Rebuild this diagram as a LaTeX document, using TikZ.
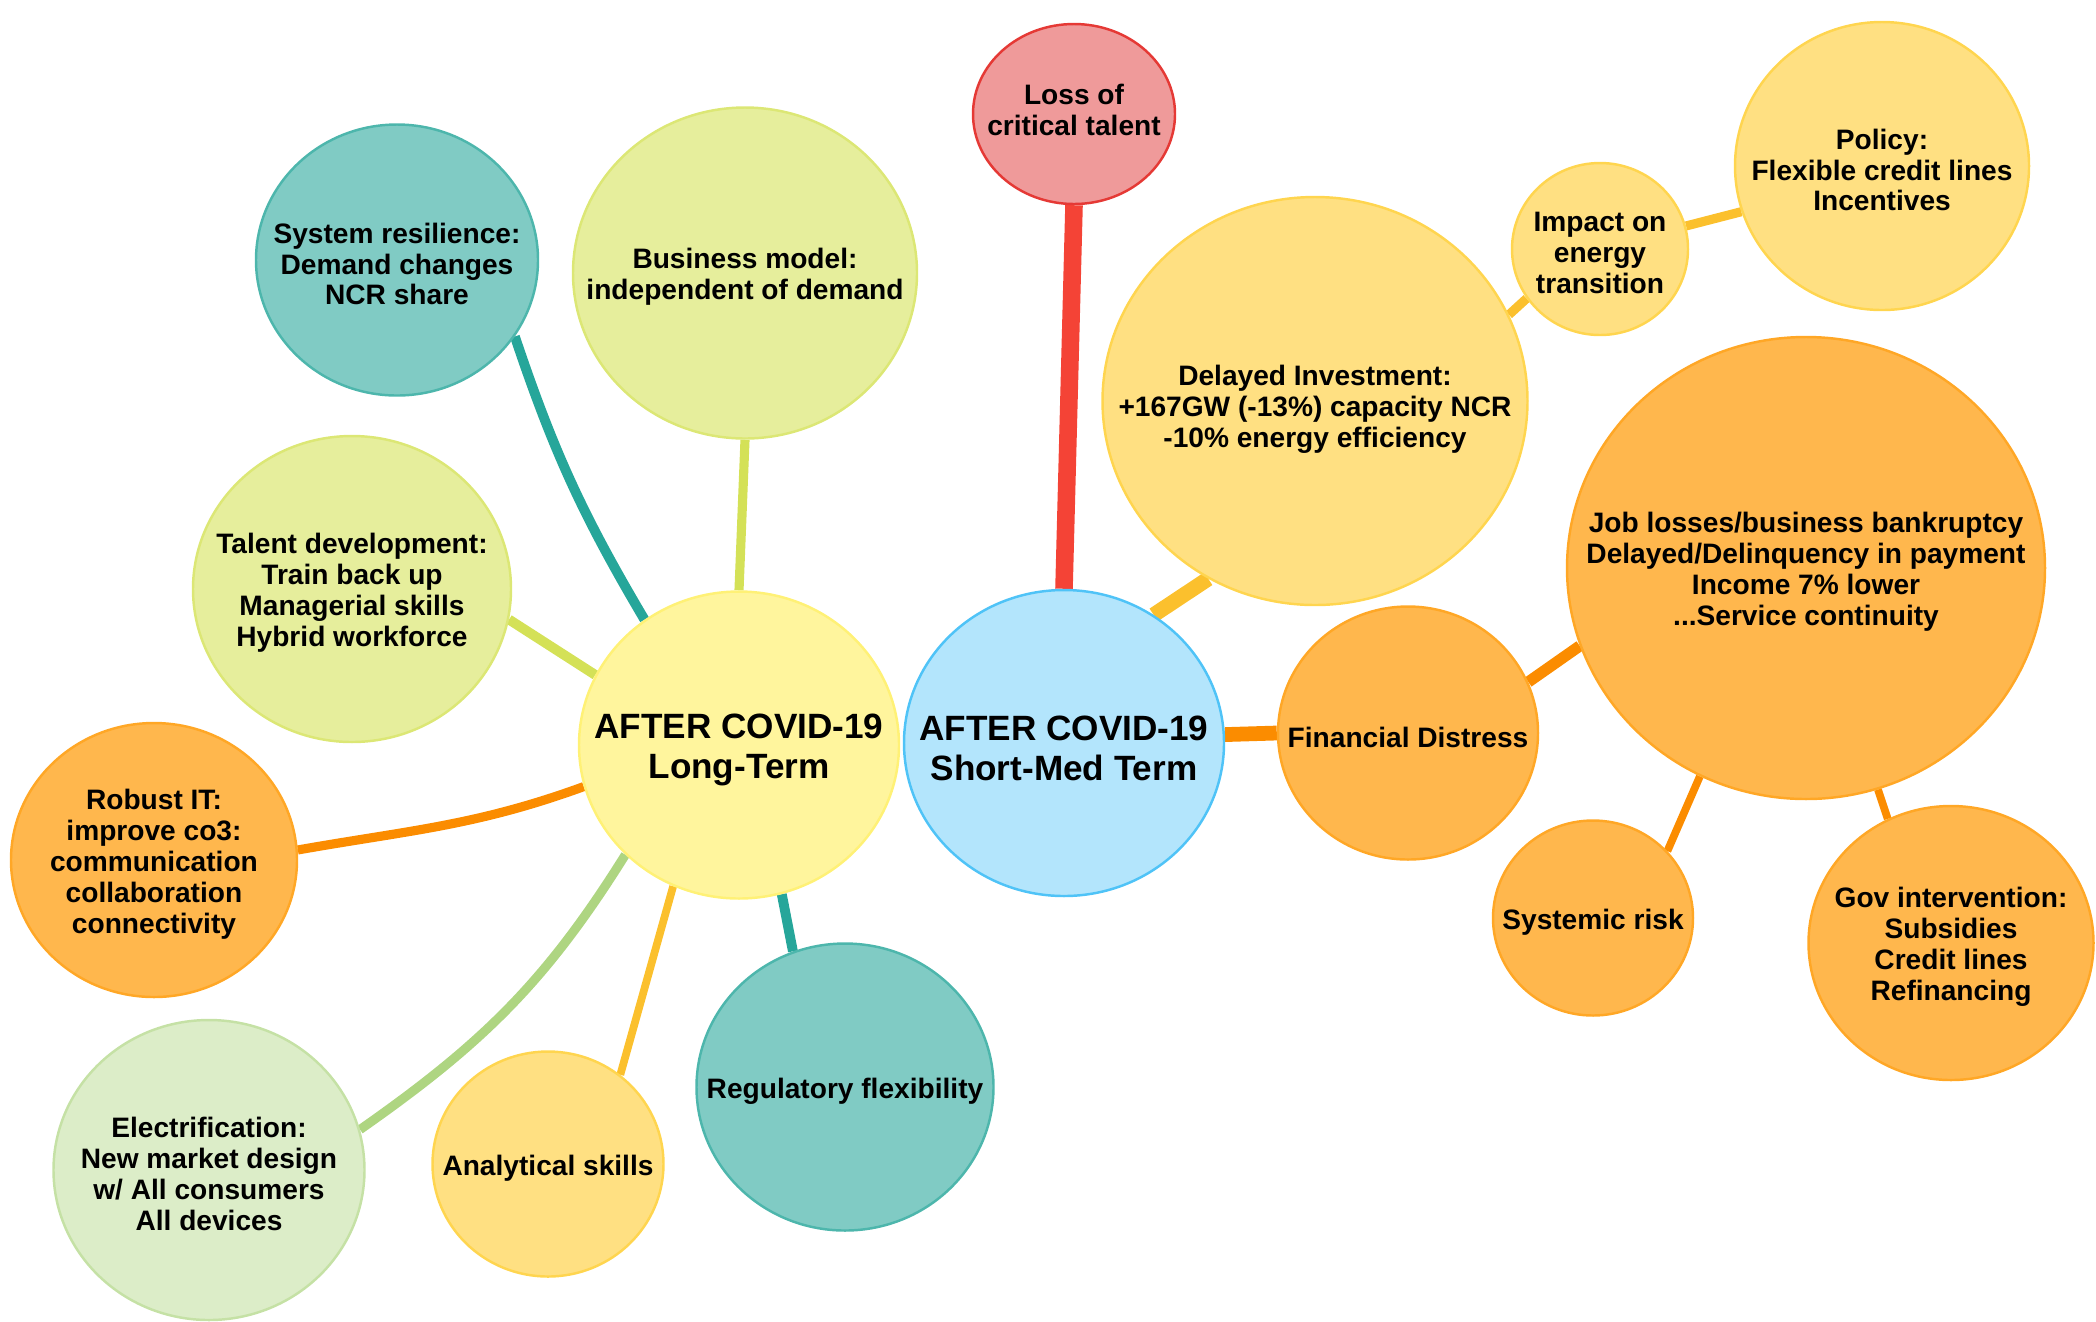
\documentclass[tikz,border=0pt]{standalone}
\usepackage{fontspec}
\setmainfont{Liberation Sans}
\usetikzlibrary{
  shapes.geometric,
  backgrounds
}
\definecolor{tealfill}{HTML}{80CBC4}
\definecolor{tealedge}{HTML}{4DB6AC}
\definecolor{teallink}{HTML}{26A69A}
\definecolor{limefill}{HTML}{E6EE9C}
\definecolor{limeedge}{HTML}{DCE775}
\definecolor{limelink}{HTML}{D4E157}
\definecolor{orangefill}{HTML}{FFB74D}
\definecolor{orangeedge}{HTML}{FFA726}
\definecolor{orangelink}{HTML}{FB8C00}
\definecolor{amberfill}{HTML}{FFE082}
\definecolor{amberedge}{HTML}{FFD54F}
\definecolor{amberlink}{HTML}{FBC02D}
\definecolor{redfill}{HTML}{EF9A9A}
\definecolor{rededge}{HTML}{E53935}
\definecolor{redlink}{HTML}{F44336}
\definecolor{bluefill}{HTML}{B3E5FC}
\definecolor{blueedge}{HTML}{4FC3F7}
\definecolor{yellowfill}{HTML}{FFF59D}
\definecolor{yellowedge}{HTML}{FFF176}
\definecolor{greenfill}{HTML}{DCEDC8}
\definecolor{greenedge}{HTML}{C5E1A5}
\definecolor{greenlink}{HTML}{AED581}

\begin{document}
\begin{tikzpicture}[
  every node/.style={font=\bfseries\fontsize{8}{8.8}\selectfont},
  bub/.style={ellipse, line width=0.7pt, inner sep=0pt},
  dims/.style 2 args={minimum width=#1cm, minimum height=#2cm},
  txt/.style={label={[align=center, yshift=-0.04cm]center:{#1}}},
  bigtxt/.style={label={[align=center, yshift=-0.05cm,
                 font=\bfseries\fontsize{10}{11.4}\selectfont]center:{#1}}},
  tealbub/.style={bub, draw=tealedge, fill=tealfill},
  limebub/.style={bub, draw=limeedge, fill=limefill},
  orangebub/.style={bub, draw=orangeedge, fill=orangefill},
  amberbub/.style={bub, draw=amberedge, fill=amberfill},
  redbub/.style={bub, draw=rededge, fill=redfill},
  bluebub/.style={bub, draw=blueedge, fill=bluefill},
  yellowbub/.style={bub, draw=yellowedge, fill=yellowfill},
  greenbub/.style={bub, draw=greenedge, fill=greenfill}
]
\useasboundingbox (0,0) rectangle (20.96,-13.21);

% the two centres
\node[bluebub, dims={3.20}{3.06},
      bigtxt={AFTER COVID-19\\Short-Med Term}] (shortmed) at (10.64,-7.43) {};
\node[yellowbub, dims={3.20}{3.07},
      bigtxt={AFTER COVID-19\\Long-Term}] (longterm) at (7.39,-7.45) {};

% short-med term branches
\node[redbub, dims={2.02}{1.80},
      label={[align=center, yshift=0.04cm]center:{Loss of\\critical talent}}]
      (losstalent) at (10.74,-1.14) {};
\node[amberbub, dims={4.25}{4.08},
      label={[align=center, yshift=-0.08cm]center:{Delayed Investment:\\+167GW (-13\%) capacity NCR\\-10\% energy efficiency}}]
      (delayinv) at (13.15,-4.01) {};
\node[amberbub, dims={1.76}{1.72},
      txt={Impact on\\energy\\transition}] (impact) at (16.00,-2.49) {};
\node[amberbub, dims={2.94}{2.88},
      txt={Policy:\\Flexible credit lines\\Incentives}] (policy) at (18.82,-1.66) {};
\node[orangebub, dims={2.60}{2.53},
      txt={Financial Distress}] (findistress) at (14.08,-7.33) {};
\node[orangebub, dims={4.78}{4.62},
      txt={Job losses/business bankruptcy\\Delayed/Delinquency in payment\\Income 7\% lower\\...Service continuity}]
      (joblosses) at (18.06,-5.68) {};
\node[orangebub, dims={2.00}{1.95},
      txt={Systemic risk}] (sysrisk) at (15.93,-9.18) {};
\node[orangebub, dims={2.85}{2.74},
      txt={Gov intervention:\\Subsidies\\Credit lines\\Refinancing}] (govint) at (19.51,-9.43) {};

% long term branches
\node[tealbub, dims={2.82}{2.71},
      txt={System resilience:\\Demand changes\\NCR share}] (sysres) at (3.97,-2.60) {};
\node[limebub, dims={3.44}{3.31},
      txt={Business model:\\independent of demand}] (bizmodel) at (7.45,-2.73) {};
\node[limebub, dims={3.18}{3.06},
      txt={Talent development:\\Train back up\\Managerial skills\\Hybrid workforce}]
      (talentdev) at (3.52,-5.89) {};
\node[orangebub, dims={2.86}{2.74},
      txt={Robust IT:\\improve co3:\\communication\\collaboration\\connectivity}]
      (robustit) at (1.54,-8.60) {};
\node[greenbub, dims={3.11}{3.00},
      txt={Electrification:\\New market design\\w/ All consumers\\All devices}]
      (electrif) at (2.09,-11.70) {};
\node[amberbub, dims={2.31}{2.25},
      txt={Analytical skills}] (analytic) at (5.48,-11.64) {};
\node[tealbub, dims={2.97}{2.87},
      txt={Regulatory flexibility}] (regflex) at (8.45,-10.87) {};

% branches
\begin{scope}[on background layer]
\draw[redlink, line width=5pt] (losstalent.south) -- (shortmed.north);
\draw[amberlink, line width=4.3pt] (delayinv.239) -- (shortmed.55);
\draw[amberlink, line width=2.6pt] (impact.214) -- (delayinv.24);
\draw[amberlink, line width=2.6pt] (policy.198) -- (impact.15);
\draw[orangelink, line width=4.2pt] (shortmed.3) -- (findistress.180);
\draw[orangelink, line width=3.2pt] (findistress.23) -- (joblosses.199);
\draw[orangelink, line width=2.2pt] (sysrisk.42) -- (joblosses.243);
\draw[orangelink, line width=2.2pt] (govint.117) -- (joblosses.288);

\draw[teallink, line width=2.8pt] (sysres.327) to[bend right=6] (longterm.127);
\draw[limelink, line width=2.6pt] (bizmodel.south) -- (longterm.north);
\draw[limelink, line width=2.8pt] (talentdev.349) -- (longterm.154);
\draw[orangelink, line width=2.6pt] (robustit.4) to[out=10, in=200] (longterm.195);
\draw[greenlink, line width=2.6pt] (electrif.15) to[out=35, in=238] (longterm.224);
\draw[amberlink, line width=2.2pt] (analytic.51) -- (longterm.245);
\draw[teallink, line width=2.8pt] (regflex.111) -- (longterm.286);
\end{scope}
\end{tikzpicture}
\end{document}
